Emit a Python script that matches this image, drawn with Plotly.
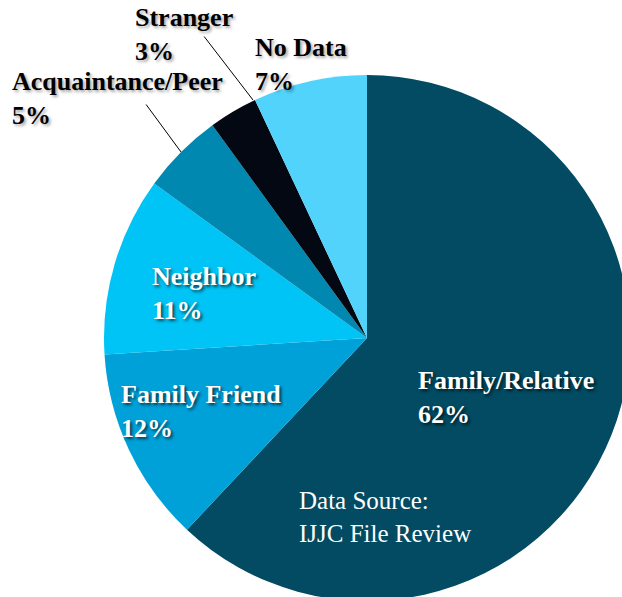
import plotly.graph_objects as go

# relationship of the person to the youth, share of cases (%)
labels = ["Family/Relative", "Family Friend", "Neighbor", "Acquaintance/Peer", "Stranger", "No Data"]
values = [62, 12, 11, 5, 3, 7]
colors = ["#024b62", "#00a1d9", "#00c4f5", "#0088b0", "#040812", "#52d3fb"]

W, H = 630, 601  # a bit wider than the window so the pie runs off the right/bottom edge


def px(x, y):
    return x / W, 1 - y / H


fig = go.Figure(
    go.Pie(
        labels=labels,
        values=values,
        sort=False,
        direction="clockwise",
        rotation=0,
        marker=dict(colors=colors, line=dict(width=0)),
        textinfo="none",
        domain=dict(x=[104 / W, 1], y=[0, 1 - 75 / H]),
        showlegend=False,
    )
)

serif = "Liberation Serif"
white_shadow = "2px 2px 3px rgba(0,0,0,0.65)"
dark_shadow = "2px 2px 3px rgba(0,0,0,0.35)"

# label text, left edge x, middle y of the two-line block, colour
label_spots = [
    ("Stranger", 3, 133, 35, "black"),
    ("No Data", 7, 253, 64, "black"),
    ("Acquaintance/Peer", 5, 10, 99, "black"),
    ("Neighbor", 11, 150, 293, "white"),
    ("Family Friend", 12, 119, 412, "white"),
    ("Family/Relative", 62, 416, 397, "white"),
]


def block_text(txt, lx, ly, col, size, shadow=None):
    x, y = px(lx, ly)
    font = dict(family=serif, size=size, color=col)
    if shadow:
        font["shadow"] = shadow
    fig.add_annotation(
        x=x, y=y, xref="paper", yref="paper", text=txt,
        showarrow=False, xanchor="left", yanchor="middle", align="left",
        font=font,
    )


for name, pct, lx, ly, col in label_spots:
    sh = white_shadow if col == "white" else dark_shadow
    block_text(f"<b>{name}<br>{pct}%</b>", lx, ly, col, 26, sh)

# leader lines for the thin slices
for (hx, hy), (tx, ty) in [((253, 100), (203, 35)), ((181, 152), (145, 103))]:
    x, y = px(hx, hy)
    fig.add_annotation(
        x=x, y=y, xref="paper", yref="paper", text="",
        showarrow=True, arrowhead=0, arrowwidth=1, arrowcolor="black",
        ax=tx - hx, ay=ty - hy,
    )

block_text("Data Source:<br>IJJC File Review", 297, 517, "white", 25)

fig.update_layout(
    width=W, height=H,
    margin=dict(l=0, r=0, t=0, b=0),
    paper_bgcolor="white",
    plot_bgcolor="white",
)

fig.write_html(
    "out.html",
    config={"displayModeBar": False},
    post_script="document.body.style.margin='0';document.body.style.overflow='hidden';",
)
